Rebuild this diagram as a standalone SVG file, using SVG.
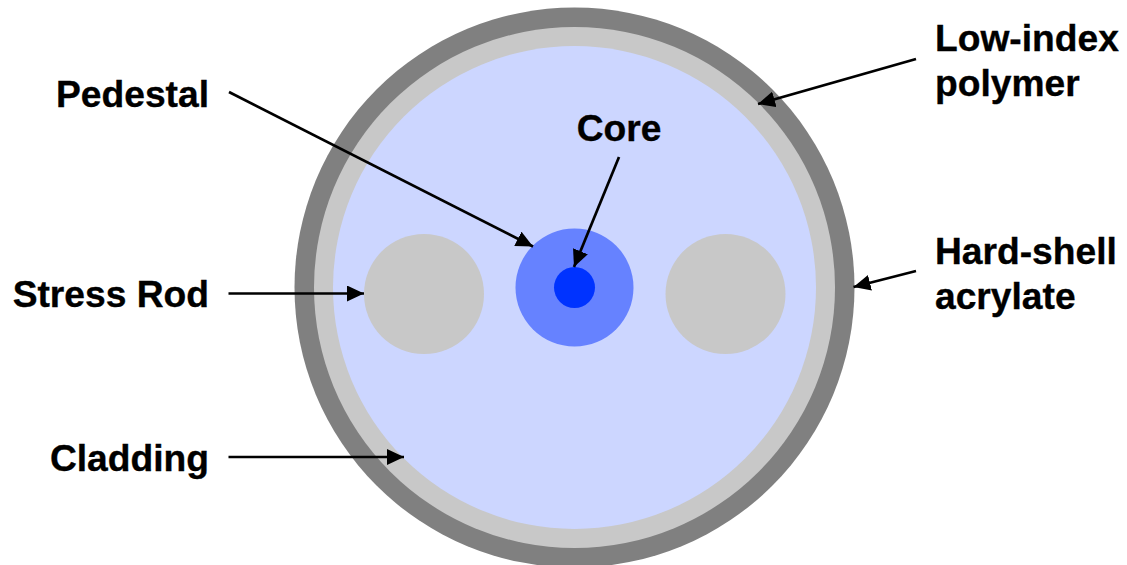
<svg xmlns="http://www.w3.org/2000/svg" width="1127" height="565" viewBox="0 0 1127 565">
<style>
text{font-family:"Liberation Sans",Arial,sans-serif;font-weight:700;font-size:37.2px;fill:#000;stroke:#000;stroke-width:.35}
.c{fill:none;stroke:#000;stroke-width:2.7}
</style>
<defs><marker id="a" markerUnits="userSpaceOnUse" markerWidth="17" markerHeight="16" refX="17" refY="8" orient="auto"><path d="M0 0L17 8L0 16Z" fill="#000"/></marker></defs>
<rect width="1127" height="565" fill="#fff"/>
<g id="shell"><circle cx="574.500" cy="287.500" r="280" fill="#808080"/></g>
<g id="polymer"><circle cx="574.500" cy="287.500" r="260.500" fill="#c8c8c8"/></g>
<g id="cladding"><circle cx="574.500" cy="287.500" r="241.500" fill="#ccd6ff"/></g>
<g id="rod-left"><circle cx="424" cy="294" r="60" fill="#c8c8c8"/></g>
<g id="rod-right"><circle cx="725.500" cy="294" r="60" fill="#c8c8c8"/></g>
<g id="pedestal"><circle cx="574.500" cy="287.500" r="59" fill="#6682ff"/></g>
<g id="core"><circle cx="574.500" cy="287.500" r="20.500" fill="#0033ff"/></g>
<g id="connectors">
<path class="c" marker-end="url(#a)" d="M229 92L533 246.500"/>
<path class="c" marker-end="url(#a)" d="M619 157L574 267"/>
<path class="c" marker-end="url(#a)" d="M228.500 293.500L364 293.500"/>
<path class="c" marker-end="url(#a)" d="M228.500 457L404 457"/>
<path class="c" marker-end="url(#a)" d="M916 59L758 104"/>
<path class="c" marker-end="url(#a)" d="M916 271L853.500 287"/>
</g>
<g id="labels">
<text x="209" y="107" text-anchor="end">Pedestal</text>
<text x="619" y="141" text-anchor="middle">Core</text>
<text x="209" y="307" text-anchor="end">Stress Rod</text>
<text x="209" y="471" text-anchor="end">Cladding</text>
<text x="935" y="51">Low-index</text>
<text x="935" y="96">polymer</text>
<text x="935" y="264">Hard-shell</text>
<text x="935" y="309">acrylate</text>
</g>
</svg>
